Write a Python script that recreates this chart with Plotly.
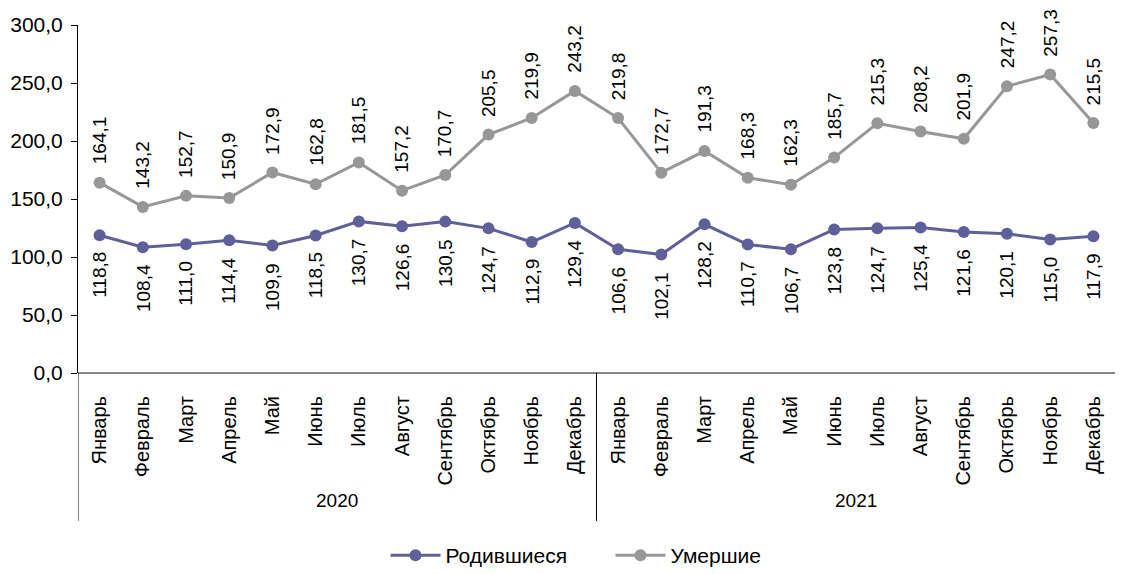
import plotly.graph_objects as go

months = ["Январь", "Февраль", "Март", "Апрель", "Май", "Июнь", "Июль", "Август",
          "Сентябрь", "Октябрь", "Ноябрь", "Декабрь"]
years = ["2020", "2021"]
born = [118.8, 108.4, 111.0, 114.4, 109.9, 118.5, 130.7, 126.6, 130.5, 124.7, 112.9, 129.4,
        106.6, 102.1, 128.2, 110.7, 106.7, 123.8, 124.7, 125.4, 121.6, 120.1, 115.0, 117.9]
died = [164.1, 143.2, 152.7, 150.9, 172.9, 162.8, 181.5, 157.2, 170.7, 205.5, 219.9, 243.2,
        219.8, 172.7, 191.3, 168.3, 162.3, 185.7, 215.3, 208.2, 201.9, 247.2, 257.3, 215.5]
y_ticks = [0, 50, 100, 150, 200, 250, 300]

labels = [m for y in years for m in months]
xs = list(range(len(labels)))

BORN_C = "#5f5f99"
DIED_C = "#979797"
FONT = "Liberation Sans, Arial, sans-serif"

def fmt(v):
    return f"{v:.1f}".replace(".", ",")

fig = go.Figure()
fig.add_trace(go.Scatter(x=xs, y=born, mode="lines+markers", name="Родившиеся",
                         line=dict(color=BORN_C, width=3),
                         marker=dict(color=BORN_C, size=12)))
fig.add_trace(go.Scatter(x=xs, y=died, mode="lines+markers", name="Умершие",
                         line=dict(color=DIED_C, width=3),
                         marker=dict(color=DIED_C, size=12)))

ann = []
for i, v in enumerate(died):
    ann.append(dict(x=i, y=v, xref="x", yref="y", text=fmt(v), textangle=-90,
                    showarrow=False, yanchor="bottom", yshift=16,
                    font=dict(family=FONT, size=19, color="#000")))
for i, v in enumerate(born):
    ann.append(dict(x=i, y=v, xref="x", yref="y", text=fmt(v), textangle=-90,
                    showarrow=False, yanchor="top", yshift=-15,
                    font=dict(family=FONT, size=19, color="#000")))
for k, yr in enumerate(years):
    ann.append(dict(x=k * 12 + 5.5, y=-0.365, xref="x", yref="paper", text=yr,
                    showarrow=False, yanchor="middle",
                    font=dict(family=FONT, size=19, color="#000")))

shapes = [
    dict(type="line", xref="x", yref="paper", x0=-0.5, x1=-0.5, y0=0, y1=-0.425,
         line=dict(color="#000", width=1)),
    dict(type="line", xref="x", yref="paper", x0=11.5, x1=11.5, y0=0, y1=-0.425,
         line=dict(color="#000", width=1)),
]

fig.update_layout(
    width=1121, height=574,
    margin=dict(l=78, r=6, t=25, b=201),
    paper_bgcolor="white", plot_bgcolor="white",
    font=dict(family=FONT, size=19, color="#000"),
    separators=", ",
    showlegend=True,
    legend=dict(orientation="h", x=0.5135, xanchor="center", yref="container", y=0.032,
                yanchor="middle", font=dict(family=FONT, size=21), itemwidth=50,
                entrywidth=160, tracegroupgap=0),
    annotations=ann, shapes=shapes,
    xaxis=dict(range=[-0.5, 23.5], tickvals=xs, ticktext=labels, tickangle=-90,
               showgrid=False, zeroline=False, showline=False, ticks="",
               ticklabelstandoff=18,
               tickfont=dict(family=FONT, size=20)),
    yaxis=dict(range=[0, 300], tickvals=y_ticks, tickformat=".1f", showgrid=False,
               zeroline=True, zerolinecolor="#868686", zerolinewidth=1.5,
               showline=True, linecolor="#000", linewidth=1, ticks="outside",
               ticklen=6, tickcolor="#000", ticklabelstandoff=4,
               tickfont=dict(family=FONT, size=21)),
)

fig.write_html("out.html")
